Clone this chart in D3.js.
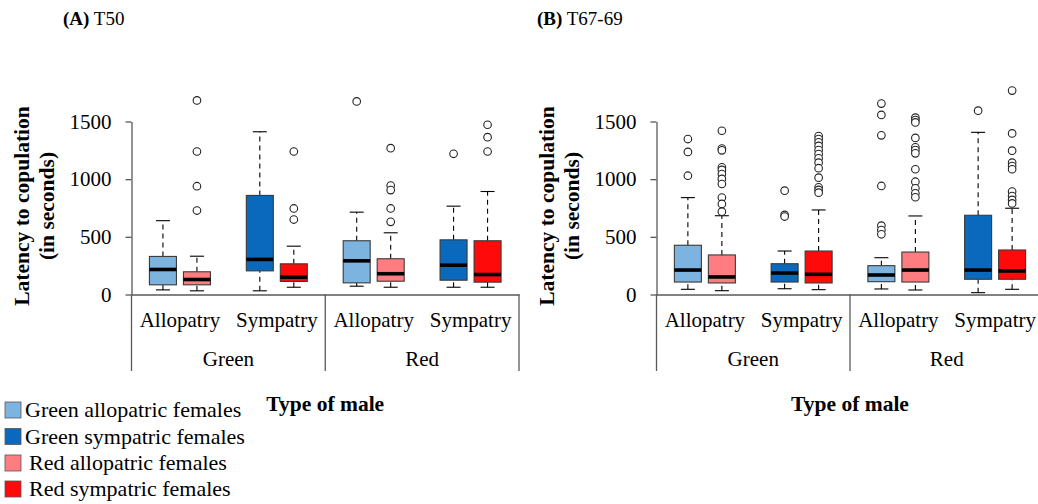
<!DOCTYPE html>
<html><head><meta charset="utf-8">
<script src="https://cdn.jsdelivr.net/npm/d3@7"></script>
<style>
body{margin:0;background:#fff}
svg{display:block}
text{font-family:"Liberation Serif","Times New Roman",serif;fill:#000}
</style>
</head><body><svg id="c" width="1038" height="504"></svg>
<script>
// ---------- data ----------
const maleTypes = ["Green", "Red"];
const habitats = ["Allopatry", "Sympatry"];
const femaleTypes = ["Green allopatric females", "Green sympatric females", "Red allopatric females", "Red sympatric females"];
const femaleColors = ["#7DB3DF", "#0A69BD", "#FF7D80", "#FF0A0A"];
const yTicks = [0, 500, 1000, 1500];

// box order: Green male (Allopatry: GA, RA | Sympatry: GS, RS), Red male (same)
const boxMale = ["Green", "Green", "Green", "Green", "Red", "Red", "Red", "Red"];
const boxHabitat = ["Allopatry", "Allopatry", "Sympatry", "Sympatry", "Allopatry", "Allopatry", "Sympatry", "Sympatry"];
const boxFemale = [0, 2, 1, 3, 0, 2, 1, 3];

// (A) T50
const t50Low    = [40, 32, 32, 63, 72, 63, 63, 63];
const t50Q1     = [84, 84, 205, 113, 101, 115, 124, 107];
const t50Median = [217, 130, 304, 150, 292, 180, 254, 173];
const t50Q3     = [330, 197, 859, 266, 466, 310, 474, 466];
const t50High   = [640, 332, 1411, 419, 714, 535, 766, 893];
const t50Outliers = [
  [],
  [1683, 1240, 939, 728],
  [],
  [1240, 746, 650],
  [1674],
  [1269, 945, 905, 746, 630],
  [1220],
  [1472, 1364, 1240]
];

// (B) T67-69
const t67Low    = [45, 33, 50, 42, 48, 39, 16, 45];
const t67Q1     = [108, 100, 108, 100, 111, 108, 132, 132];
const t67Median = [212, 152, 186, 175, 169, 212, 212, 204];
const t67Q3     = [427, 343, 267, 377, 250, 368, 687, 386];
const t67High   = [840, 683, 377, 733, 319, 681, 1406, 748];
const t67Outliers = [
  [1348, 1236, 1030],
  [1420, 1266, 1250, 1103, 1080, 1045, 1002, 958, 840, 785, 718],
  [900, 690, 676],
  [1374, 1348, 1320, 1288, 1253, 1218, 1181, 1143, 1095, 1013, 930, 907, 883],
  [1655, 1557, 1380, 941, 597, 559, 522],
  [1533, 1512, 1492, 1358, 1276, 1253, 1224, 1086, 978, 921, 878, 843],
  [1594],
  [1768, 1397, 1247, 1143, 1114, 1086, 892, 854, 820, 790]
];

// ---------- drawing ----------
const svg = d3.select("#c");
const FONT = 21;
const SERIF = '"Liberation Serif","Times New Roman",serif';
const axisColor = "#595959";
const y = d3.scaleLinear().domain([0, 1500]).range([294.5, 121.5]);

const panels = [
  {label: "(A)", name: " T50", left: 131.5, right: 519, titleX: 63,
   low: t50Low, q1: t50Q1, med: t50Median, q3: t50Q3, high: t50High, out: t50Outliers},
  {label: "(B)", name: " T67-69", left: 656.5, right: 1043.5, titleX: 537,
   low: t67Low, q1: t67Q1, med: t67Median, q3: t67Q3, high: t67High, out: t67Outliers}
];

panels.forEach(p => {
  const g = svg.append("g");
  const cats = maleTypes.flatMap(m => habitats.map(h => m + "|" + h));
  const xCat = d3.scaleBand().domain(cats).range([p.left, p.right]);
  const xMale = d3.scaleBand().domain(maleTypes).range([p.left, p.right]);
  const xPair = d3.scalePoint().domain(["green", "red"]).range([-17, 17]);
  const boxW = 27, capW = 14;

  // title
  const t = g.append("text").attr("x", p.titleX).attr("y", 25).style("font-size", "19px");
  t.append("tspan").style("font-weight", "bold").text(p.label);
  t.append("tspan").text(p.name);

  // y axis
  const ya = g.append("g").attr("transform", `translate(${p.left},0)`)
    .call(d3.axisLeft(y).tickValues(yTicks).tickFormat(d3.format("d"))
      .tickSize(6).tickSizeOuter(0).tickPadding(14));
  ya.selectAll("path,line").attr("stroke", axisColor).attr("stroke-width", 1.3);
  ya.selectAll("text").style("font-size", FONT + "px").attr("fill", "#000").style("font-family", SERIF);

  // x axis (habitat)
  const xa = g.append("g").attr("transform", `translate(0,${y(0)})`)
    .call(d3.axisBottom(xCat).tickSize(0).tickSizeOuter(0).tickFormat(d => d.split("|")[1]));
  xa.selectAll("path").attr("stroke", axisColor).attr("stroke-width", 1.3);
  xa.selectAll("text").attr("dy", null).attr("y", 32.5).style("font-size", FONT + "px")
    .attr("fill", "#000").style("font-family", SERIF);

  // x axis (male type)
  const xb = g.append("g").attr("transform", `translate(0,${y(0)})`)
    .call(d3.axisBottom(xMale).tickSize(0).tickSizeOuter(0));
  xb.select(".domain").remove();
  xb.selectAll("text").attr("dy", null).attr("y", 71.5).style("font-size", FONT + "px")
    .attr("fill", "#000").style("font-family", SERIF);

  // separators
  const seps = [p.left, ...maleTypes.slice(1).map(m => xMale(m)), p.right];
  g.selectAll("line.sep").data(seps).join("line").attr("class", "sep")
    .attr("x1", d => d).attr("x2", d => d).attr("y1", y(0)).attr("y2", 371)
    .attr("stroke", axisColor).attr("stroke-width", 1.3);

  // axis titles
  g.append("text").attr("x", (p.left + p.right) / 2).attr("y", 411)
    .attr("text-anchor", "middle").style("font-weight", "bold").style("font-size", "21.5px")
    .text("Type of male");
  const yt = [["Latency to copulation", p.left - 110.5], ["(in seconds)", p.left - 85.5]];
  yt.forEach(([s, xx]) => {
    g.append("text").attr("transform", `translate(${xx},206) rotate(-90)`)
      .attr("text-anchor", "middle").attr("dy", "0.35em")
      .style("font-weight", "bold").style("font-size", "21.5px").text(s);
  });

  // boxes
  const boxes = d3.range(8).map(i => ({
    cx: xCat(boxMale[i] + "|" + boxHabitat[i]) + xCat.bandwidth() / 2 + xPair(boxFemale[i] < 2 ? "green" : "red"),
    color: femaleColors[boxFemale[i]],
    low: p.low[i], q1: p.q1[i], med: p.med[i], q3: p.q3[i], high: p.high[i], out: p.out[i]
  }));

  const bg = g.selectAll("g.box").data(boxes).join("g").attr("class", "box");
  // whiskers
  bg.append("line").attr("x1", d => d.cx).attr("x2", d => d.cx)
    .attr("y1", d => y(d.low)).attr("y2", d => y(d.q1))
    .attr("stroke", "#000").attr("stroke-width", 1.1).attr("stroke-dasharray", "5,4");
  bg.append("line").attr("x1", d => d.cx).attr("x2", d => d.cx)
    .attr("y1", d => y(d.q3)).attr("y2", d => y(d.high))
    .attr("stroke", "#000").attr("stroke-width", 1.1).attr("stroke-dasharray", "5,4");
  bg.append("line").attr("x1", d => d.cx - capW / 2).attr("x2", d => d.cx + capW / 2)
    .attr("y1", d => y(d.low)).attr("y2", d => y(d.low)).attr("stroke", "#000").attr("stroke-width", 1.1);
  bg.append("line").attr("x1", d => d.cx - capW / 2).attr("x2", d => d.cx + capW / 2)
    .attr("y1", d => y(d.high)).attr("y2", d => y(d.high)).attr("stroke", "#000").attr("stroke-width", 1.1);
  // box
  bg.append("rect").attr("x", d => d.cx - boxW / 2).attr("width", boxW)
    .attr("y", d => y(d.q3)).attr("height", d => y(d.q1) - y(d.q3))
    .attr("fill", d => d.color).attr("stroke", "#3a3a3a").attr("stroke-width", 1.1);
  // median
  bg.append("line").attr("x1", d => d.cx - boxW / 2).attr("x2", d => d.cx + boxW / 2)
    .attr("y1", d => y(d.med)).attr("y2", d => y(d.med)).attr("stroke", "#000").attr("stroke-width", 3.6);
  // outliers
  bg.selectAll("circle").data(d => d.out.map(v => ({cx: d.cx, v}))).join("circle")
    .attr("cx", d => d.cx).attr("cy", d => y(d.v)).attr("r", 3.8)
    .attr("fill", "#fff").attr("stroke", "#222").attr("stroke-width", 1.1);
});

// legend
const legendTop = [402, 428.5, 455, 481];
const legendTextX = [25, 25, 29, 29];
const lg = svg.selectAll("g.leg").data(femaleTypes).join("g").attr("class", "leg");
lg.append("rect").attr("x", 5).attr("y", (d, i) => legendTop[i]).attr("width", 16).attr("height", 16)
  .attr("fill", (d, i) => femaleColors[i]).attr("stroke", "#555").attr("stroke-width", 0.8);
lg.append("text").attr("x", (d, i) => legendTextX[i]).attr("y", (d, i) => legendTop[i] + 15)
  .style("font-size", "22px").text(d => d);
</script>
</body></html>
